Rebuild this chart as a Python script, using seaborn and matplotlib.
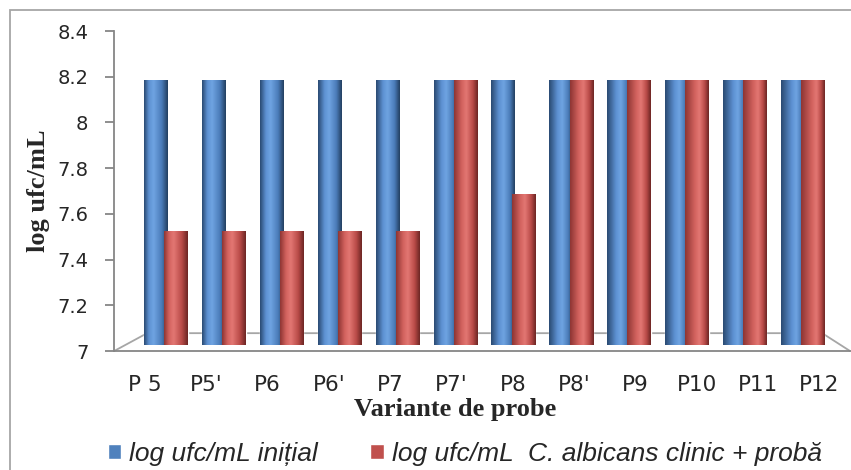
import numpy as np
import pandas as pd
import matplotlib
matplotlib.use("Agg")
import matplotlib.pyplot as plt
import seaborn as sns
from matplotlib.colors import LinearSegmentedColormap
from matplotlib.patches import Rectangle

# data
samples = ["P 5", "P5'", "P6", "P6'", "P7", "P7'", "P8", "P8'", "P9", "P10", "P11", "P12"]
initial = [8.16, 8.16, 8.16, 8.16, 8.16, 8.16, 8.16, 8.16, 8.16, 8.16, 8.16, 8.16]
with_sample = [7.50, 7.50, 7.50, 7.50, 7.50, 8.16, 7.66, 8.16, 8.16, 8.16, 8.16, 8.16]
series_names = ["log ufc/mL inițial", "log ufc/mL  C. albicans clinic + probă"]

df = pd.DataFrame({
    "Proba": samples * 2,
    "Valoare": initial + with_sample,
    "Serie": [series_names[0]] * len(samples) + [series_names[1]] * len(samples),
})

BLUE = "#4f81bd"
RED = "#c0504d"
GRAY = "#868686"

sns.set_style("white")
plt.rcParams["font.family"] = ["DejaVu Sans"]

fig = plt.figure(figsize=(8.51, 4.70), dpi=100)

# front frame: axis lines, ticks and labels (the 3D "front" of the chart)
ax_front = fig.add_axes([0.134, 0.253, 0.865, 0.681])
ax_front.set_facecolor("none")
ax_front.set_xlim(-0.5, len(samples) - 0.5)
ax_front.set_ylim(7, 8.4)
ax_front.set_xticks(range(len(samples)))
ax_front.set_xticklabels(samples)
ax_front.set_xticks(np.arange(-0.5, len(samples), 1.0), minor=True)
ax_front.set_yticks(np.arange(7, 8.41, 0.2))
ax_front.set_yticklabels(["7", "7.2", "7.4", "7.6", "7.8", "8", "8.2", "8.4"])
for side in ["top", "right"]:
    ax_front.spines[side].set_visible(False)
for side in ["left", "bottom"]:
    ax_front.spines[side].set_color(GRAY)
    ax_front.spines[side].set_linewidth(1.3)
ax_front.tick_params(axis="x", which="major", length=0, labelsize=15.5, pad=17)
ax_front.tick_params(axis="x", which="minor", length=6, color=GRAY, width=1.3)
ax_front.tick_params(axis="y", length=6.5, color=GRAY, width=1.3, labelsize=14,
                     pad=12, left=True)

# floor of the 3D box
ax_front.plot([0, 0.045, 0.962, 1.0], [0, 0.056, 0.056, 0.0], transform=ax_front.transAxes,
              color="#a6a6a6", lw=1.3, zorder=1, clip_on=False)

ax_front.set_xlabel("Variante de probe", family="Liberation Serif", fontweight="bold",
                    fontsize=19)
ax_front.xaxis.set_label_coords(0.463, -0.148)
ax_front.set_ylabel("log ufc/mL", family="Liberation Serif", fontweight="bold",
                    fontsize=19, labelpad=5)

# bars sit on the middle depth plane, a bit narrower than the front
ax = fig.add_axes([0.161, 0.266, 0.816, 0.681])
sns.barplot(data=df, x="Proba", y="Valoare", hue="Serie", palette=[BLUE, RED],
            width=0.7, gap=-0.15, saturation=1, ax=ax)

grad_colors = {
    "b": ["#2a4a72", "#5d91d2", "#6fa4e2", "#4a7bb8", "#233f60"],
    "r": ["#8e3533", "#d2625e", "#e37773", "#b84a47", "#6c2624"],
}
for patch in list(ax.patches):
    h = patch.get_height()
    if h <= 0:
        continue
    x0, w = patch.get_x(), patch.get_width()
    fc = patch.get_facecolor()
    key = "b" if fc[2] > fc[0] else "r"
    # highlight drifts right toward the right of the chart (perspective)
    t = np.clip((x0 + w / 2) / (len(samples) - 1), 0, 1)
    cols = grad_colors[key]
    cmap = LinearSegmentedColormap.from_list(
        "c", [(0, cols[0]), (0.2 + 0.25 * t, cols[1]), (0.4 + 0.25 * t, cols[2]),
              (0.75 + 0.1 * t, cols[3]), (1, cols[4])])
    grad = np.linspace(0, 1, 64).reshape(1, -1)
    im = ax.imshow(grad, extent=[x0, x0 + w, 7, patch.get_y() + h], aspect="auto",
                   cmap=cmap, zorder=3, interpolation="bicubic")
    im.set_clip_path(patch)

ax.set_xlim(-0.5, len(samples) - 0.5)
ax.set_ylim(7, 8.4)
ax.set_facecolor("none")
for side in ax.spines:
    ax.spines[side].set_visible(False)
ax.set_xticks([])
ax.set_yticks([])
ax.set_xlabel("")
ax.set_ylabel("")

sns.move_legend(ax, "center", bbox_to_anchor=(0.546, 0.035), bbox_transform=fig.transFigure,
                ncol=2, frameon=False, title=None, handlelength=0.5, handleheight=0.5,
                columnspacing=2.0, handletextpad=0.3,
                prop={"family": "Liberation Sans", "style": "italic", "size": 19})

# light frame around the chart area
fig.patches.append(Rectangle((0.012, -0.05), 1.05, 1.029, transform=fig.transFigure,
                             fill=False, edgecolor="#a6a6a6", lw=1.3, figure=fig))

fig.savefig("out.png", dpi=100)
